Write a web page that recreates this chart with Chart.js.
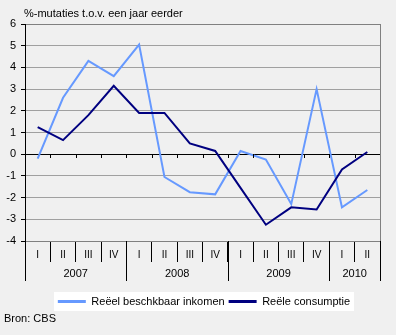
<!DOCTYPE html>
<html>
<head>
<meta charset="utf-8">
<script src="https://cdn.jsdelivr.net/npm/chart.js@4/dist/chart.umd.min.js"></script>
<style>
  html, body { margin: 0; padding: 0; background: #f0f0f0; }
  canvas { display: block; }
</style>
</head>
<body>
<canvas id="c" width="396" height="335"></canvas>
<script>
const quarters = ['I','II','III','IV','I','II','III','IV','I','II','III','IV','I','II'];
const years = ['2007','2008','2009','2010'];
const yearSpans = [4, 4, 4, 2];
const inkomen = [-0.2, 2.6, 4.3, 3.6, 5.05, -1.05, -1.75, -1.85, 0.15, -0.25, -2.3, 3.0, -2.45, -1.65];
const consumptie = [1.25, 0.65, 1.8, 3.15, 1.9, 1.9, 0.5, 0.15, -1.55, -3.25, -2.45, -2.55, -0.7, 0.1];
const seriesNames = ['Reëel beschkbaar inkomen', 'Reële consumptie'];
const yMin = -4, yMax = 6, yStep = 1;
const titleText = '%-mutaties t.o.v. een jaar eerder';
const sourceText = 'Bron: CBS';

const FONT = '"Liberation Sans", Arial, sans-serif';
const LIGHT = '#6699ff';
const DARK = '#000080';

function px(v) { return Math.round(v) + 0.5; }

const decor = {
  id: 'decor',
  afterLayout(chart) {
    const lg = chart.legend;
    if (lg) { lg.left += 14; lg.right += 14; }
  },
  beforeDraw(chart) {
    const ctx = chart.ctx;
    ctx.save();
    ctx.fillStyle = '#f0f0f0';
    ctx.fillRect(0, 0, chart.width, chart.height);
    const boxes = chart.legend && chart.legend.legendHitBoxes;
    if (boxes && boxes.length) {
      let l = Infinity, r = -Infinity, t = Infinity, b = -Infinity;
      boxes.forEach(h => { l = Math.min(l, h.left); r = Math.max(r, h.left + h.width); t = Math.min(t, h.top); b = Math.max(b, h.top + h.height); });
      ctx.fillStyle = '#ffffff';
      ctx.fillRect(Math.round(l) - 4, Math.round(t) - 4, Math.round(r - l) + 8, Math.round(b - t) + 8);
    }
    ctx.restore();
  },
  afterDraw(chart) {
    const ctx = chart.ctx;
    const xs = chart.scales.x, ys = chart.scales.y;
    const ca = chart.chartArea;
    ctx.save();
    // right border
    ctx.strokeStyle = '#808080';
    ctx.lineWidth = 1;
    ctx.beginPath();
    ctx.moveTo(px(ca.right), Math.round(ca.top));
    ctx.lineTo(px(ca.right), Math.round(ca.bottom) + 1);
    ctx.stroke();
    // ticks on zero line
    const y0 = Math.round(ys.getPixelForValue(0));
    ctx.strokeStyle = '#000';
    ctx.beginPath();
    for (let i = 1; i < quarters.length; i++) {
      const bx = px(xs.getPixelForValue(i - 0.5));
      ctx.moveTo(bx, y0);
      ctx.lineTo(bx, y0 + 4);
    }
    ctx.stroke();
    // year separators and labels
    let start = 0;
    const sepTop = Math.round(ca.bottom);
    const sepBottom = sepTop + 40;
    ctx.beginPath();
    const b0 = px(xs.getPixelForValue(-0.5));
    ctx.moveTo(b0, sepTop); ctx.lineTo(b0, sepBottom);
    ctx.fillStyle = '#000';
    ctx.font = '11px ' + FONT;
    ctx.textAlign = 'center';
    ctx.textBaseline = 'middle';
    years.forEach((yr, k) => {
      const end = start + yearSpans[k];
      const bx = px(xs.getPixelForValue(end - 0.5));
      ctx.moveTo(bx, sepTop); ctx.lineTo(bx, sepBottom);
      const cx = xs.getPixelForValue((start + end) / 2 - 0.5);
      ctx.fillText(yr, cx, sepTop + 33);
      start = end;
    });
    ctx.stroke();
    // title and source
    ctx.textAlign = 'left';
    ctx.fillText(titleText, 24, 14);
    ctx.fillText(sourceText, 4, 319);
    ctx.restore();
  }
};

new Chart(document.getElementById('c'), {
  type: 'line',
  data: {
    labels: quarters,
    datasets: [
      { label: seriesNames[0], data: inkomen, borderColor: LIGHT, backgroundColor: LIGHT, borderWidth: 2, pointRadius: 0, tension: 0, order: 1 },
      { label: seriesNames[1], data: consumptie, borderColor: DARK, backgroundColor: DARK, borderWidth: 2, pointRadius: 0, tension: 0, order: 0 }
    ]
  },
  options: {
    responsive: false,
    devicePixelRatio: 1,
    animation: false,
    layout: { padding: { left: 0, top: 24, right: 16, bottom: 18 } },
    plugins: {
      title: { display: false },
      tooltip: { enabled: false },
      legend: {
        position: 'bottom',
        reverse: false,
        labels: {
          boxWidth: 28,
          boxHeight: 3,
          padding: 4,
          color: '#000',
          font: { family: FONT, size: 11 },
          generateLabels(chart) {
            const items = Chart.defaults.plugins.legend.labels.generateLabels(chart);
            items.forEach(it => { it.lineWidth = 0; it.fillStyle = it.strokeStyle; });
            items.sort((a, b) => a.datasetIndex - b.datasetIndex);
            return items;
          }
        }
      }
    },
    scales: {
      x: {
        type: 'category',
        offset: true,
        afterFit(scale) { scale.height = 51; },
        grid: {
          offset: true,
          drawOnChartArea: false,
          drawTicks: true,
          tickLength: 21,
          tickColor: '#000',
          color: '#000'
        },
        border: { display: true, color: '#808080' },
        ticks: {
          color: '#000',
          font: { family: FONT, size: 10 },
          padding: -13,
          maxRotation: 0,
          autoSkip: false
        }
      },
      y: {
        min: yMin,
        max: yMax,
        afterFit(scale) { scale.width = 25; },
        grid: {
          drawTicks: true,
          tickLength: 4,
          tickColor: '#000',
          color(ctx) {
            if (ctx.tick && ctx.tick.value === 0) return '#000';
            if (ctx.tick && ctx.tick.value === yMax) return '#808080';
            return '#a0a0a0';
          }
        },
        border: { display: true, color: '#000' },
        ticks: {
          stepSize: yStep,
          color: '#000',
          padding: 5,
          font: { family: FONT, size: 11 }
        }
      }
    }
  },
  plugins: [decor]
});
</script>
</body>
</html>
